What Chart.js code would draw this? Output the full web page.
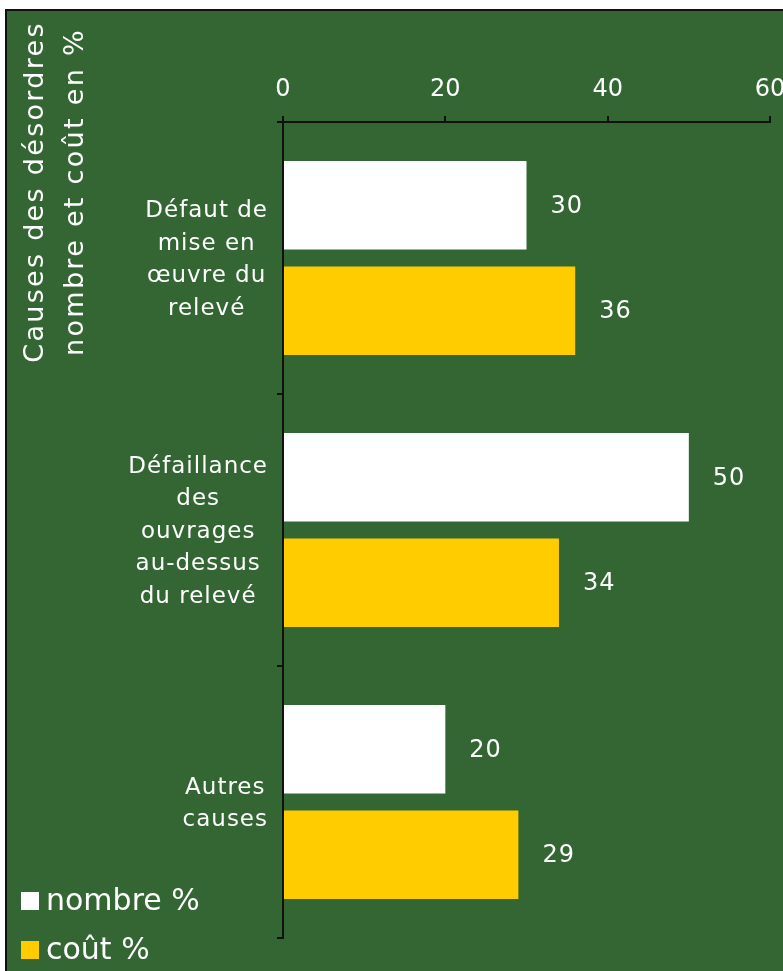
<!DOCTYPE html>
<html>
<head>
<meta charset="utf-8">
<script src="https://cdn.jsdelivr.net/npm/chart.js@4/dist/chart.umd.min.js"></script>
<style>
  html, body { margin: 0; padding: 0; background: #fff; overflow: hidden; width: 783px; height: 971px; }
  .panel { position: absolute; left: 5px; top: 9px; width: 800px; height: 980px;
           background: #336633; border-left: 2px solid #111; border-top: 2px solid #111; }
  #chart { position: absolute; left: 0; top: 0; }
</style>
</head>
<body>
<div class="panel"></div>
<canvas id="chart" width="800" height="971"></canvas>
<script>
/* ── Data ── */
const categories = [
  ['Défaut de', 'mise en', 'œuvre du', 'relevé'],
  ['Défaillance', 'des', 'ouvrages', 'au-dessus', 'du relevé'],
  ['Autres', 'causes']
];
const nombre = [30, 50, 20];
const cout   = [36, 34, 29];
const seriesLabels = ['nombre %', 'coût %'];
const xTicks = [0, 20, 40, 60];
const titleLines = ['Causes des désordres', 'nombre et coût en %'];

const WHITE = '#ffffff', GOLD = '#ffcc00', FONT = "'DejaVu Sans', Verdana, sans-serif";

/* ── Plugins ── */
const yLabels = {
  id: 'yLabels',
  afterDraw(chart) {
    const c = chart.ctx, s = chart.scales.y;
    const right = s.right - 15, lh = 32.5;
    c.save();
    c.font = '23px ' + FONT; c.letterSpacing = '1px';
    c.fillStyle = WHITE; c.textAlign = 'center'; c.textBaseline = 'middle';
    categories.forEach((lines, i) => {
      const w = Math.max(...lines.map(l => c.measureText(l).width));
      const cx = right - w / 2;
      const y0 = s.getPixelForValue(i) - (lines.length - 1) * lh / 2 + 2;
      lines.forEach((l, k) => c.fillText(l, cx, y0 + k * lh));
    });
    c.restore();
  }
};

const valueLabels = {
  id: 'valueLabels',
  afterDatasetsDraw(chart) {
    const c = chart.ctx;
    c.save();
    c.font = '24px ' + FONT; c.letterSpacing = '1px';
    c.fillStyle = WHITE; c.textAlign = 'left'; c.textBaseline = 'middle';
    chart.data.datasets.forEach((ds, di) => {
      chart.getDatasetMeta(di).data.forEach((bar, i) => c.fillText(ds.data[i], bar.x + 24, bar.y + 1));
    });
    c.restore();
  }
};

const sideTitle = {
  id: 'sideTitle',
  afterDraw(chart) {
    const c = chart.ctx;
    c.save();
    c.font = '27px ' + FONT; c.letterSpacing = '2.3px';
    c.fillStyle = WHITE; c.textAlign = 'center'; c.textBaseline = 'alphabetic';
    c.translate(0, 192); c.rotate(-Math.PI / 2);
    c.fillText(titleLines[0], 0, 43);
    c.fillText(titleLines[1], 0, 83);
    c.restore();
  }
};

const legendBox = {
  id: 'legendBox',
  afterDraw(chart) {
    const c = chart.ctx;
    c.save();
    c.font = '30px ' + FONT; c.textBaseline = 'alphabetic'; c.textAlign = 'left';
    chart.data.datasets.forEach((ds, i) => {
      const base = 910 + i * 49;
      c.fillStyle = ds.backgroundColor;
      c.fillRect(21, base - 18, 18, 18);
      c.fillStyle = WHITE;
      c.fillText(ds.label, 46, base);
    });
    c.restore();
  }
};

/* ── Chart ── */
new Chart(document.getElementById('chart'), {
  type: 'bar',
  data: {
    labels: categories,
    datasets: [
      { label: seriesLabels[0], data: nombre, backgroundColor: WHITE },
      { label: seriesLabels[1], data: cout, backgroundColor: GOLD }
    ]
  },
  options: {
    indexAxis: 'y', responsive: false, animation: false,
    categoryPercentage: 0.775, barPercentage: 0.84,
    layout: { padding: { left: 0, top: 10, right: 30, bottom: 33 } },
    plugins: { legend: { display: false }, tooltip: { enabled: false } },
    scales: {
      x: {
        position: 'top', min: 0, max: 60,
        afterBuildTicks: s => { s.ticks = xTicks.map(v => ({ value: v })); },
        afterFit: s => { s.height = 112; },
        ticks: { color: WHITE, font: { family: FONT, size: 24 }, padding: 12, maxRotation: 0 },
        grid: { drawOnChartArea: false, color: '#111', lineWidth: 2, tickLength: 6 },
        border: { color: '#111', width: 2 }
      },
      y: {
        afterFit: s => { s.width = 283; },
        ticks: { display: false },
        grid: { drawOnChartArea: false, offset: true, color: '#111', lineWidth: 2, tickLength: 6 },
        border: { color: '#111', width: 2 }
      }
    }
  },
  plugins: [yLabels, valueLabels, sideTitle, legendBox]
});
</script>
</body>
</html>
